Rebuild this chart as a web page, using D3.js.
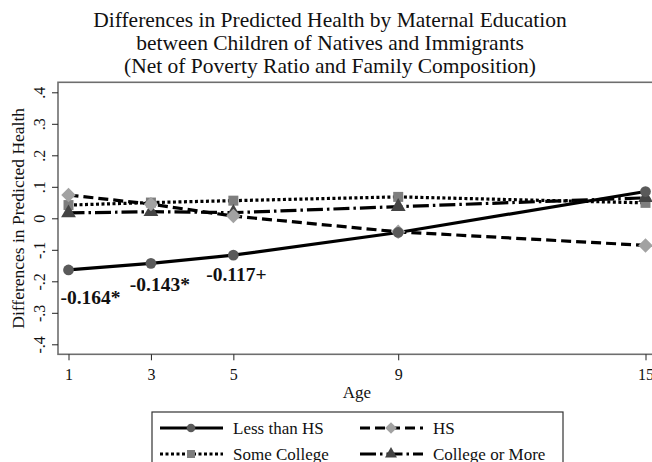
<!DOCTYPE html>
<html>
<head>
<meta charset="utf-8">
<script src="https://cdn.jsdelivr.net/npm/d3@7"></script>
<style>
  html, body { margin: 0; padding: 0; background: #fff; }
  svg { display: block; font-family: "Liberation Serif", "Times New Roman", serif; }
</style>
</head>
<body>
<svg id="chart" width="652" height="462"></svg>
<script>
// Child age at each wave
const ages = [1, 3, 5, 9, 15];

// Native minus immigrant difference in predicted health, by maternal education
const lessThanHS   = [-0.164, -0.143, -0.117, -0.045, 0.085];
const hs           = [0.074, 0.045, 0.007, -0.043, -0.086];
const someCollege  = [0.042, 0.050, 0.056, 0.068, 0.049];
const collegeMore  = [0.017, 0.021, 0.018, 0.037, 0.065];

const seriesNames = ["Less than HS", "HS", "Some College", "College or More"];
const yTicks = [-0.4, -0.3, -0.2, -0.1, 0, 0.1, 0.2, 0.3, 0.4];
const yTickLabels = ["-.4", "-.3", "-.2", "-.1", "0", ".1", ".2", ".3", ".4"];

// Significance labels for the Less than HS gaps
const noteAges = [1, 3, 5];
const noteTexts = ["-0.164*", "-0.143*", "-0.117+"];

const titleLines = [
  "Differences in Predicted Health by Maternal Education",
  "between Children of Natives and Immigrants",
  "(Net of Poverty Ratio and Family Composition)"
];

const svg = d3.select("#chart");

const x = d3.scaleLinear().domain([1, 15]).range([68.5, 645.5]);
const y = d3.scaleLinear().domain([-0.4, 0.4]).range([344.3, 92.3]);

// Plot frame (open to the right, beyond the visible area)
const frameLeft = x(1) - 10.5;
const frameTop = y(0.4) - 10;
const frameBottom = y(-0.4) + 10;
svg.append("rect")
  .attr("x", frameLeft).attr("y", frameTop)
  .attr("width", 760 - frameLeft).attr("height", frameBottom - frameTop)
  .attr("fill", "none").attr("stroke", "#6e6e6e").attr("stroke-width", 1.6);

// Title
svg.append("g").selectAll("text").data(titleLines).join("text")
  .attr("x", 330).attr("y", (d, i) => 27 + i * 23)
  .attr("text-anchor", "middle").attr("font-size", 21.5).attr("fill", "#111")
  .text(d => d);

// Y axis with vertical tick labels
const yAxis = svg.append("g").attr("transform", `translate(${frameLeft},0)`)
  .call(d3.axisLeft(y).tickValues(yTicks).tickSize(6).tickFormat((d, i) => yTickLabels[i]));
yAxis.select(".domain").remove();
yAxis.selectAll(".tick line").attr("stroke", "#222");
yAxis.selectAll(".tick text")
  .attr("font-family", "Liberation Serif, serif").attr("font-size", 16).attr("fill", "#111")
  .attr("x", 0).attr("dy", 0)
  .attr("text-anchor", "middle")
  .attr("transform", "translate(-13,0) rotate(-90)");

// X axis
const xAxis = svg.append("g").attr("transform", `translate(0,${frameBottom})`)
  .call(d3.axisBottom(x).tickValues(ages).tickSize(6).tickFormat(d3.format("d")));
xAxis.select(".domain").remove();
xAxis.selectAll(".tick line").attr("stroke", "#222");
xAxis.selectAll(".tick text")
  .attr("font-family", "Liberation Serif, serif").attr("font-size", 16).attr("fill", "#111")
  .attr("y", 14);

// Axis titles
svg.append("text").attr("x", 357).attr("y", 398).attr("text-anchor", "middle")
  .attr("font-size", 17).attr("fill", "#111").text("Age");
svg.append("text").attr("transform", `translate(24,${y(0)}) rotate(-90)`)
  .attr("text-anchor", "middle").attr("font-size", 17.5).attr("fill", "#111")
  .text("Differences in Predicted Health");

// Series styling
const styles = [
  { values: lessThanHS,  dash: null,          marker: "circle",   fill: "#5a5a5a" },
  { values: hs,          dash: "10,5",        marker: "diamond",  fill: "#a2a2a2" },
  { values: someCollege, dash: "3,2.5",       marker: "square",   fill: "#7e7e7e" },
  { values: collegeMore, dash: "16,4,2.5,4",  marker: "triangle", fill: "#444444" }
];

// Marker shapes; the diamond is a square turned 45 degrees
const markerPath = (kind, scale) => {
  const sizes = { circle: 90, diamond: 105, square: 100, triangle: 95 };
  const type = { circle: d3.symbolCircle, diamond: d3.symbolSquare,
                 square: d3.symbolSquare, triangle: d3.symbolTriangle }[kind];
  return d3.symbol().type(type).size(sizes[kind] * scale)();
};
const markerRotate = kind => (kind === "diamond" ? " rotate(45)" : "");

const line = d3.line().x(d => x(d[0])).y(d => y(d[1]));

// Draw order: dotted and dash-dot underneath, then dashed, then solid
const order = [2, 3, 1, 0];
order.forEach(k => {
  const s = styles[k];
  const pts = ages.map((a, i) => [a, s.values[i]]);
  svg.append("path").datum(pts).attr("d", line)
    .attr("fill", "none").attr("stroke", "#000").attr("stroke-width", 3.2)
    .attr("stroke-dasharray", s.dash);
});
order.forEach(k => {
  const s = styles[k];
  svg.append("g").selectAll("path").data(ages.map((a, i) => [a, s.values[i]])).join("path")
    .attr("d", markerPath(s.marker, 1))
    .attr("transform", d => `translate(${x(d[0])},${y(d[1])})${markerRotate(s.marker)}`)
    .attr("fill", s.fill);
});

// Significance labels under the Less than HS points
const noteDx = [22, 9, 3];
const noteDy = [34, 28, 26];
svg.append("g").selectAll("text").data(noteAges).join("text")
  .attr("x", (d, i) => x(d) + noteDx[i])
  .attr("y", (d, i) => y(lessThanHS[ages.indexOf(d)]) + noteDy[i])
  .attr("text-anchor", "middle").attr("font-size", 19.5).attr("font-weight", "bold")
  .attr("fill", "#111")
  .text((d, i) => noteTexts[i]);

// Legend
const legend = svg.append("g");
legend.append("rect").attr("x", 152).attr("y", 412).attr("width", 411).attr("height", 70)
  .attr("fill", "#fff").attr("stroke", "#333").attr("stroke-width", 1.2);
const legendPos = [[160, 428], [360, 428], [160, 454], [360, 454]];
styles.forEach((s, k) => {
  const [lx, ly] = legendPos[k];
  legend.append("line").attr("x1", lx).attr("x2", lx + 63).attr("y1", ly).attr("y2", ly)
    .attr("stroke", "#000").attr("stroke-width", 3.2).attr("stroke-dasharray", s.dash);
  legend.append("path").attr("d", markerPath(s.marker, 0.65))
    .attr("transform", `translate(${lx + 31},${ly})${markerRotate(s.marker)}`).attr("fill", s.fill);
  legend.append("text").attr("x", lx + 73).attr("y", ly + 5.5)
    .attr("font-size", 17).attr("fill", "#111").text(seriesNames[k]);
});
</script>
</body>
</html>
